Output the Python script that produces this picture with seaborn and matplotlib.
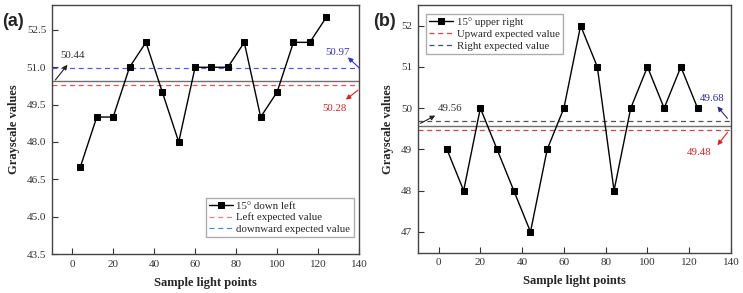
import matplotlib
matplotlib.use('Agg')
import matplotlib.pyplot as plt
import seaborn as sns
import pandas as pd

sns.set_theme(style='white')
plt.rcParams['font.family'] = ['Liberation Serif', 'DejaVu Serif']
plt.rcParams['mathtext.fontset'] = 'stix'

# sample light point positions
points = [4, 12, 20, 28, 36, 44, 52, 60, 68, 76, 84, 92, 100, 108, 116, 124]

# (a) 15 deg down left
down_left = [47, 49, 49, 51, 52, 50, 48, 51, 51, 51, 52, 49, 50, 52, 52, 53]
a_mean = 50.44
a_left = 50.28
a_down = 50.97
a_yticks = [43.5, 45.0, 46.5, 48.0, 49.5, 51.0, 52.5]

# (b) 15 deg upper right
upper_right = [49, 48, 50, 49, 48, 47, 49, 50, 52, 51, 48, 50, 51, 50, 51, 50]
b_mean = 49.56
b_up = 49.48
b_right = 49.68
b_yticks = [47, 48, 49, 50, 51, 52]

xticks = [0, 20, 40, 60, 80, 100, 120, 140]

df_a = pd.DataFrame({'x': points, 'y': down_left})
df_b = pd.DataFrame({'x': points, 'y': upper_right})

fig = plt.figure(figsize=(7.43, 2.93), dpi=100)
ax1 = fig.add_axes([51.7 / 743, 1 - 254 / 293, (359 - 51.7) / 743, (254 - 5) / 293])
ax2 = fig.add_axes([417.7 / 743, 1 - 252.5 / 293, (731 - 417.7) / 743, (252.5 - 5) / 293])


def style_axis(ax, ylim, yticks, fmt):
    ax.set_xlim(-10, 140)
    ax.set_ylim(*ylim)
    ax.set_xticks(xticks)
    ax.set_yticks(yticks)
    ax.set_yticklabels([fmt.format(v) for v in yticks])
    ax.tick_params(direction='in', length=4, width=0.8, labelsize=8, colors='#333333',
                   bottom=True, left=True, pad=4)
    for s in ax.spines.values():
        s.set_color('#444444')
        s.set_linewidth(1.0)
    ax.set_xlabel('Sample light points', fontsize=9, fontweight='bold', labelpad=6)
    ax.set_ylabel('Grayscale values', fontsize=9, fontweight='bold', labelpad=5)
    ax.grid(False)


def arrow(ax, head, tail, color):
    ax.annotate('', xy=head, xytext=tail,
                arrowprops=dict(arrowstyle='-|>', color=color, lw=0.8, mutation_scale=7,
                                shrinkA=0, shrinkB=0))


# panel (a)
ax1.axhline(a_mean, color='#707070', lw=1.0, zorder=1)
ax1.axhline(a_left, color='#e05555', lw=0.9, ls=(0, (4, 3)), label='Left expected value', zorder=1)
ax1.axhline(a_down, color='#5a5ae0', lw=0.9, ls=(0, (4, 3)), label='downward expected value', zorder=1)
sns.lineplot(data=df_a, x='x', y='y', ax=ax1, color='black', marker='s', markersize=3.8,
             lw=1.0, markeredgecolor='black', label='15° down left', zorder=3)
style_axis(ax1, (43.5, 53.5), a_yticks, '{:.1f}')
h, l = ax1.get_legend_handles_labels()
order = [2, 0, 1]
leg = ax1.legend([h[i] for i in order], [l[i] for i in order], loc='lower right', fontsize=7.8,
                 frameon=True, fancybox=False, edgecolor='#999999', handlelength=2.2,
                 borderpad=0.3, labelspacing=0.2, handletextpad=0.3, bbox_to_anchor=(1.0, 0.045))
leg.get_lines()[1].set_color('#f08080')
leg.get_lines()[2].set_color('#4a90d0')

arrow(ax1, (-2.3, 51.1), (-8.2, 50.49), '#222222')
ax1.text(0.1, 51.47, f'{a_mean:.2f}', fontsize=7.8, color='#333333', ha='center', va='center')
arrow(ax1, (134.6, 51.4), (140, 50.98), '#3333cc')
ax1.text(129.5, 51.6, f'{a_down:.2f}', fontsize=7.8, color='#3333cc', ha='center', va='center')
arrow(ax1, (133.6, 49.7), (139.5, 50.08), '#dd2222')
ax1.text(127.8, 49.35, f'{a_left:.2f}', fontsize=7.8, color='#dd2222', ha='center', va='center')

# panel (b)
ax2.axhline(b_mean, color='#707070', lw=1.0, zorder=1)
ax2.axhline(b_up, color='#cc4444', lw=0.9, ls=(0, (4, 3)), label='Upward expected value', zorder=1)
ax2.axhline(b_right, color='#555555', lw=0.9, ls=(0, (4, 3)), label='Right expected value', zorder=1)
sns.lineplot(data=df_b, x='x', y='y', ax=ax2, color='black', marker='s', markersize=3.8,
             lw=1.0, markeredgecolor='black', label='15° upper right', zorder=3)
style_axis(ax2, (46.5, 52.5), b_yticks, '{:d}')
h, l = ax2.get_legend_handles_labels()
leg = ax2.legend([h[i] for i in order], [l[i] for i in order], loc='upper left', fontsize=7.8,
                 frameon=True, fancybox=False, edgecolor='#999999', handlelength=2.2,
                 borderpad=0.3, labelspacing=0.2, handletextpad=0.3, bbox_to_anchor=(0.01, 0.985))
leg.get_lines()[1].set_color('#e04040')
leg.get_lines()[2].set_color('#2f5f6f')

arrow(ax2, (-1.6, 49.82), (-8.7, 49.63), '#222222')
ax2.text(5.6, 49.99, f'{b_mean:.2f}', fontsize=7.8, color='#333333', ha='center', va='center')
arrow(ax2, (133.5, 50.04), (138.3, 49.75), '#2a2a8a')
ax2.text(131, 50.23, f'{b_right:.2f}', fontsize=7.8, color='#2a2a8a', ha='center', va='center')
arrow(ax2, (133.5, 49.1), (138.3, 49.41), '#dd2222')
ax2.text(124.8, 48.92, f'{b_up:.2f}', fontsize=7.8, color='#dd2222', ha='center', va='center')

# panel labels
fig.text(2 / 743, 1 - 21 / 293, '(a)', fontsize=13, fontweight='bold', family='Liberation Sans',
         va='center', ha='left')
fig.text(373 / 743, 1 - 21 / 293, '(b)', fontsize=13, fontweight='bold', family='Liberation Sans',
         va='center', ha='left')

fig.savefig('out.png', dpi=100)
plt.close(fig)
